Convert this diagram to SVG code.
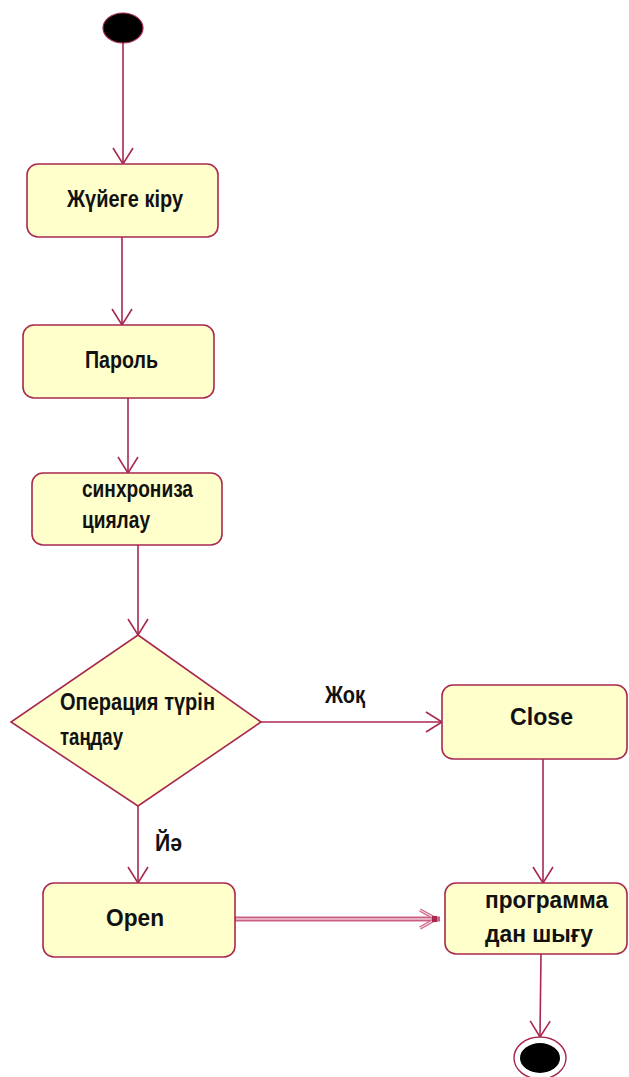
<svg xmlns="http://www.w3.org/2000/svg" width="629" height="1077" viewBox="0 0 629 1077">
  <defs>
    <style>
      .node { fill: #FFFFCC; stroke: #A8284F; stroke-width: 1.6; }
      .edge { fill: none; stroke: #A8284F; stroke-width: 1.6; }
      .edge2 { fill: none; stroke: #CC5F85; stroke-width: 5; }
      .edge2in { fill: none; stroke: #F2C8D6; stroke-width: 1.6; }
      .lbl { font-family: "Liberation Sans Narrow", "Liberation Sans", Arial, sans-serif; font-weight: bold; font-size: 24px; fill: #111; }
    </style>
    <marker id="open" markerUnits="userSpaceOnUse" viewBox="-18 -12 20 24" markerWidth="20" markerHeight="24" refX="0" refY="0" orient="auto" overflow="visible">
      <path d="M -16 -10 L 0 0 L -16 10" fill="none" stroke="#A8284F" stroke-width="1.6"/>
    </marker>
    <marker id="open2" markerUnits="userSpaceOnUse" viewBox="-18 -12 20 24" markerWidth="20" markerHeight="24" refX="0" refY="0" orient="auto" overflow="visible">
      <path d="M -16 -9 L 0 0 L -16 9" fill="none" stroke="#D06A8E" stroke-width="3.5"/>
      <path d="M -16 -9 L 0 0 L -16 9" fill="none" stroke="#F4D0DC" stroke-width="1.2"/>
      <rect x="-4" y="-3" width="5" height="6" fill="#A8284F"/>
    </marker>
  </defs>

  <!-- connectors -->
  <g id="connectors">
    <line class="edge" x1="123" y1="43" x2="123" y2="164" marker-end="url(#open)"/>
    <line class="edge" x1="122" y1="237" x2="122" y2="325" marker-end="url(#open)"/>
    <line class="edge" x1="128" y1="398" x2="128" y2="473" marker-end="url(#open)"/>
    <line class="edge" x1="138" y1="545" x2="138" y2="635" marker-end="url(#open)"/>
    <line class="edge" x1="261" y1="722" x2="442" y2="722" marker-end="url(#open)"/>
    <line class="edge" x1="138" y1="806" x2="138" y2="883" marker-end="url(#open)"/>
    <line class="edge" x1="543" y1="759" x2="543" y2="883" marker-end="url(#open)"/>
    <line class="edge2" x1="235" y1="919" x2="440" y2="919"/>
    <line class="edge2in" x1="236" y1="919" x2="436" y2="919" marker-end="url(#open2)"/>
    <line class="edge" x1="541" y1="954" x2="540" y2="1037" marker-end="url(#open)"/>
    <text class="lbl" x="325" y="703" textLength="40" lengthAdjust="spacingAndGlyphs">Жоқ</text>
    <text class="lbl" x="155" y="851" textLength="27" lengthAdjust="spacingAndGlyphs">Йә</text>
  </g>

  <!-- initial state -->
  <g id="start">
    <ellipse cx="123" cy="28" rx="20" ry="15" fill="#000" stroke="#A8284F" stroke-width="1.2"/>
  </g>

  <g id="login">
    <rect class="node" x="27" y="164" width="191" height="73" rx="11"/>
    <text class="lbl" x="67" y="207" textLength="116" lengthAdjust="spacingAndGlyphs">Жүйеге кіру</text>
  </g>

  <g id="password">
    <rect class="node" x="23" y="325" width="191" height="73" rx="11"/>
    <text class="lbl" x="85" y="368" textLength="73" lengthAdjust="spacingAndGlyphs">Пароль</text>
  </g>

  <g id="sync">
    <rect class="node" x="32" y="473" width="190" height="72" rx="11"/>
    <text class="lbl" x="82" y="497" textLength="111" lengthAdjust="spacingAndGlyphs">синхрониза</text>
    <text class="lbl" x="82" y="528" textLength="68" lengthAdjust="spacingAndGlyphs">циялау</text>
  </g>

  <g id="choose">
    <polygon class="node" points="138,635 261,722 138,806 11,722"/>
    <text class="lbl" x="60" y="710" textLength="155" lengthAdjust="spacingAndGlyphs">Операция түрін</text>
    <text class="lbl" x="60" y="745" textLength="63" lengthAdjust="spacingAndGlyphs">таңдау</text>
  </g>

  <g id="close">
    <rect class="node" x="442" y="685" width="185" height="74" rx="11"/>
    <text class="lbl" x="510" y="725" textLength="63" lengthAdjust="spacingAndGlyphs">Close</text>
  </g>

  <g id="open-node">
    <rect class="node" x="43" y="883" width="192" height="74" rx="11"/>
    <text class="lbl" x="106" y="926" textLength="58" lengthAdjust="spacingAndGlyphs">Open</text>
  </g>

  <g id="exit">
    <rect class="node" x="445" y="883" width="182" height="71" rx="11"/>
    <text class="lbl" x="485" y="908" textLength="123" lengthAdjust="spacingAndGlyphs">программа</text>
    <text class="lbl" x="485" y="942" textLength="108" lengthAdjust="spacingAndGlyphs">дан шығу</text>
  </g>

  <!-- final state -->
  <g id="end">
    <ellipse cx="540" cy="1058" rx="26" ry="21" fill="#fff" stroke="#A8284F" stroke-width="1.4"/>
    <ellipse cx="540" cy="1058" rx="20" ry="15" fill="#000"/>
  </g>
</svg>
